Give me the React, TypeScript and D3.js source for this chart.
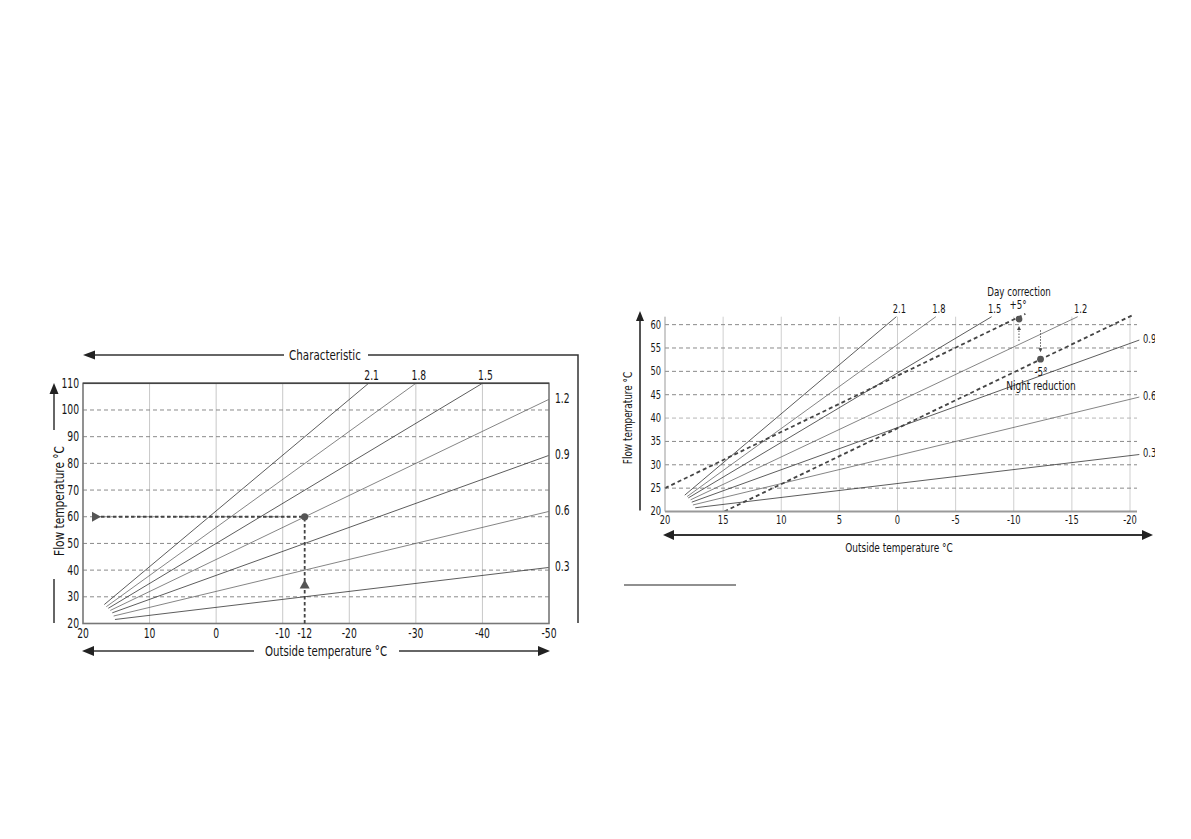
import React from "react";
import * as d3 from "d3";

const FONT = "'Liberation Sans Narrow','DejaVu Sans Condensed','Arial Narrow',Roboto,sans-serif";

// ---- data ----
const curveLabels = ["2.1", "1.8", "1.5", "1.2", "0.9", "0.6", "0.3"];

// Left chart: [outside temperature, flow temperature] start and end of each curve
const leftStarts: [number, number][] = [
  [16.8, 27.1], [16.5, 26.3], [16.2, 25.7], [15.9, 24.9], [15.6, 24.0], [15.4, 22.8], [15.2, 21.5],
];
const leftEnds: [number, number][] = [
  [-22.9, 110], [-30, 110], [-40, 110], [-50, 104], [-50, 83], [-50, 62], [-50, 41],
];
const leftXTicks = [20, 10, 0, -10, -20, -30, -40, -50];
const leftYTicks = [20, 30, 40, 50, 60, 70, 80, 90, 100, 110];
const leftMarkerOutside = -13.3;
const leftMarkerLabel = "-12";
const leftMarkerFlow = 60;
const leftUpArrowFlow = 36.5;

// Right chart
const rightStarts: [number, number][] = [
  [18.3, 23.5], [18.1, 23.2], [18.0, 22.9], [17.8, 22.5], [17.7, 22.0], [17.6, 21.4], [17.4, 20.8],
];
const rightEnds: [number, number][] = [
  [0.1, 61.7], [-3.3, 61.7], [-8.1, 61.7], [-15.5, 61.7], [-20.8, 56.7], [-20.8, 44.5], [-20.8, 32.2],
];
const rightXTicks = [20, 15, 10, 5, 0, -5, -10, -15, -20];
const rightYTicks = [20, 25, 30, 35, 40, 45, 50, 55, 60];
const dayLine: [number, number][] = [[20, 25], [-11, 62.3]];
const nightLine: [number, number][] = [[14.9, 20], [-20.2, 62]];
const dayPoint: [number, number] = [-10.45, 61.2];
const dayFromFlow = 56.5;
const nightPoint: [number, number] = [-12.3, 52.6];
const nightFromFlow = 58.8;

const TXT = "#151515";

function tri(x: number, y: number, dir: "l" | "r" | "u" | "d", len = 11, half = 4.5) {
  if (dir === "l") return `M${x},${y}L${x + len},${y - half}L${x + len},${y + half}Z`;
  if (dir === "r") return `M${x},${y}L${x - len},${y - half}L${x - len},${y + half}Z`;
  if (dir === "u") return `M${x},${y}L${x - half},${y + len}L${x + half},${y + len}Z`;
  return `M${x},${y}L${x - half},${y - len}L${x + half},${y - len}Z`;
}

function T(props: { x: number; y: number; size: number; sx: number; anchor?: string; rot?: number; children: React.ReactNode }) {
  const { x, y, size, sx, anchor = "middle", rot = 0, children } = props;
  return (
    <text
      transform={`translate(${x},${y})${rot ? ` rotate(${rot})` : ""} scale(${sx},1)`}
      fontSize={size}
      textAnchor={anchor as any}
      dominantBaseline="central"
    >
      {children}
    </text>
  );
}

function LeftChart() {
  const x = d3.scaleLinear().domain([20, -50]).range([83, 549]);
  const y = d3.scaleLinear().domain([20, 110]).range([623.5, 383.3]);
  const line = d3.line<[number, number]>().x((d) => x(d[0])).y((d) => y(d[1]));
  const mx = x(leftMarkerOutside);
  const my = y(leftMarkerFlow);
  const ts = 13.5, tsx = 0.76, hs = 14, hsx = 0.82;
  return (
    <g fontFamily={FONT} fill={TXT}>
      {leftXTicks.slice(1, -1).map((t) => (
        <line key={"vg" + t} x1={x(t)} x2={x(t)} y1={y(110)} y2={y(20)} stroke="#c8c8c8" strokeWidth={1} />
      ))}
      {leftYTicks.slice(1, -1).map((t) => (
        <line key={"hg" + t} x1={x(20)} x2={x(-50)} y1={y(t)} y2={y(t)} stroke="#8a8a8a" strokeWidth={1} strokeDasharray="4,3" />
      ))}
      {curveLabels.map((c, i) => (
        <path key={"c" + c} d={line([leftStarts[i], leftEnds[i]]) as string} stroke={i % 2 ? "#666" : "#333"} strokeWidth={0.8} fill="none" />
      ))}
      <rect x={x(20)} y={y(110)} width={x(-50) - x(20)} height={y(20) - y(110)} fill="none" stroke="#777" strokeWidth={1.6} />
      <line x1={x(20)} x2={x(-50)} y1={y(110)} y2={y(110)} stroke="#444" strokeWidth={1.6} />
      <line x1={101} x2={mx} y1={my} y2={my} stroke="#444" strokeWidth={1.8} strokeDasharray="3.5,2.5" />
      <path d={tri(101, my, "r", 9, 5)} fill="#555" />
      <line x1={mx} x2={mx} y1={y(20)} y2={my} stroke="#444" strokeWidth={1.8} strokeDasharray="3.5,2.5" />
      <path d={tri(mx, y(leftUpArrowFlow), "u", 9, 5)} fill="#555" />
      <circle cx={mx} cy={my} r={3.6} fill="#555" />
      {leftYTicks.map((t) => (
        <T key={"yt" + t} x={79} y={y(t)} size={ts} sx={tsx} anchor="end">{t}</T>
      ))}
      {leftXTicks.map((t) => (
        <T key={"xt" + t} x={x(t)} y={633} size={ts} sx={tsx}>{t}</T>
      ))}
      <T x={mx} y={633} size={ts} sx={tsx}>{leftMarkerLabel}</T>
      {curveLabels.map((c, i) =>
        leftEnds[i][1] >= 110 ? (
          <T key={"cl" + c} x={x(leftEnds[i][0]) + 3} y={375} size={ts} sx={tsx}>{c}</T>
        ) : (
          <T key={"cl" + c} x={555} y={y(leftEnds[i][1]) - 1} size={ts} sx={tsx} anchor="start">{c}</T>
        )
      )}
      <line x1={92} x2={284} y1={355} y2={355} stroke="#333" strokeWidth={1.5} />
      <path d={tri(83, 355, "l", 12, 4.5)} fill="#222" />
      <T x={325} y={355} size={hs} sx={hsx}>Characteristic</T>
      <polyline points={`368,355 578,355 578,623`} fill="none" stroke="#333" strokeWidth={1.5} />
      <line x1={54} x2={54} y1={392} y2={430} stroke="#333" strokeWidth={1.5} />
      <path d={tri(54, 383, "u", 11, 4.5)} fill="#222" />
      <line x1={54} x2={54} y1={579} y2={623} stroke="#333" strokeWidth={1.5} />
      <T x={59} y={501} size={hs} sx={0.84} rot={-90}>Flow temperature °C</T>
      <line x1={90} x2={254} y1={651} y2={651} stroke="#666" strokeWidth={2} />
      <line x1={399} x2={542} y1={651} y2={651} stroke="#666" strokeWidth={2} />
      <path d={tri(82, 651, "l", 12, 5)} fill="#222" />
      <path d={tri(550, 651, "r", 12, 5)} fill="#222" />
      <T x={326} y={651} size={hs} sx={0.81}>Outside temperature °C</T>
    </g>
  );
}

function RightChart() {
  const x = d3.scaleLinear().domain([20, -20]).range([665, 1130]);
  const y = d3.scaleLinear().domain([20, 61.7]).range([511.5, 316.7]);
  const line = d3.line<[number, number]>().x((d) => x(d[0])).y((d) => y(d[1]));
  const right = 1137;
  const dx = x(dayPoint[0]);
  const nx = x(nightPoint[0]);
  const ts = 12.5, tsx = 0.74, hs = 12.5, hsx = 0.8;
  return (
    <g fontFamily={FONT} fill={TXT}>
      <defs>
        <clipPath id="rclip"><rect x={0} y={0} width={1155} height={839} /></clipPath>
      </defs>
      {rightXTicks.slice(1).map((t) => (
        <line key={"vg" + t} x1={x(t)} x2={x(t)} y1={y(61.7)} y2={y(20)} stroke="#cfcfcf" strokeWidth={1} />
      ))}
      {rightYTicks.slice(1).map((t) => (
        <line key={"hg" + t} x1={x(20)} x2={right} y1={y(t)} y2={y(t)} stroke={t === 40 ? "#b5b5b5" : "#8a8a8a"} strokeWidth={1} strokeDasharray="4,3" />
      ))}
      {curveLabels.map((c, i) => (
        <path key={"c" + c} d={line([rightStarts[i], rightEnds[i]]) as string} stroke={i % 2 ? "#666" : "#333"} strokeWidth={0.8} fill="none" />
      ))}
      <path d={line(dayLine) as string} stroke="#444" strokeWidth={1.8} strokeDasharray="4,3" fill="none" />
      <path d={line(nightLine) as string} stroke="#444" strokeWidth={1.8} strokeDasharray="4,3" fill="none" />
      <line x1={dx} x2={dx} y1={y(dayFromFlow)} y2={y(dayPoint[1]) + 9} stroke="#555" strokeWidth={1} strokeDasharray="1.5,1.5" />
      <path d={tri(dx, y(dayPoint[1]) + 7, "u", 4, 2)} fill="#444" />
      <line x1={nx} x2={nx} y1={y(nightFromFlow)} y2={y(nightPoint[1]) - 9} stroke="#555" strokeWidth={1} strokeDasharray="1.5,1.5" />
      <path d={tri(nx, y(nightPoint[1]) - 7, "d", 4, 2)} fill="#444" />
      <circle cx={dx} cy={y(dayPoint[1])} r={3.4} fill="#555" />
      <circle cx={nx} cy={y(nightPoint[1])} r={3.4} fill="#555" />
      <line x1={x(20)} x2={x(20)} y1={y(61.7)} y2={y(20)} stroke="#999" strokeWidth={1} />
      <line x1={x(20)} x2={right} y1={y(20)} y2={y(20)} stroke="#999" strokeWidth={2} />
      {rightYTicks.map((t) => (
        <T key={"yt" + t} x={661} y={y(t)} size={ts} sx={tsx} anchor="end">{t}</T>
      ))}
      {rightXTicks.map((t) => (
        <T key={"xt" + t} x={x(t)} y={520.5} size={ts} sx={tsx}>{t}</T>
      ))}
      <g clipPath="url(#rclip)">
        {curveLabels.map((c, i) =>
          rightEnds[i][1] >= 61.7 ? (
            <T key={"cl" + c} x={x(rightEnds[i][0]) + 3} y={309} size={ts} sx={tsx}>{c}</T>
          ) : (
            <T key={"cl" + c} x={1143} y={y(rightEnds[i][1]) - 1} size={ts} sx={tsx} anchor="start">{c}</T>
          )
        )}
      </g>
      <T x={1019} y={292} size={11.8} sx={0.82}>Day correction</T>
      <T x={1018} y={305.5} size={11.8} sx={0.82}>+5°</T>
      <T x={1041} y={372} size={11.8} sx={0.82}>-5°</T>
      <T x={1041} y={386} size={hs} sx={hsx}>Night reduction</T>
      <line x1={640} x2={640} y1={318} y2={510.5} stroke="#555" strokeWidth={2} />
      <path d={tri(640, 311, "u", 10, 4)} fill="#222" />
      <T x={628.5} y={418} size={hs} sx={0.79} rot={-90}>Flow temperature °C</T>
      <line x1={670} x2={1146} y1={535} y2={535} stroke="#333" strokeWidth={2} />
      <path d={tri(663, 535, "l", 11, 5)} fill="#222" />
      <path d={tri(1153, 535, "r", 11, 5)} fill="#222" />
      <T x={899} y={548} size={hs} sx={0.8}>Outside temperature °C</T>
      <line x1={624} x2={736} y1={585} y2={585} stroke="#222" strokeWidth={1.2} />
    </g>
  );
}

export default function App() {
  return (
    <svg width={1191} height={839} style={{ position: "absolute", left: 0, top: 0, background: "#fff" }}>
      <rect width={1191} height={839} fill="#fff" />
      <LeftChart />
      <RightChart />
    </svg>
  );
}
